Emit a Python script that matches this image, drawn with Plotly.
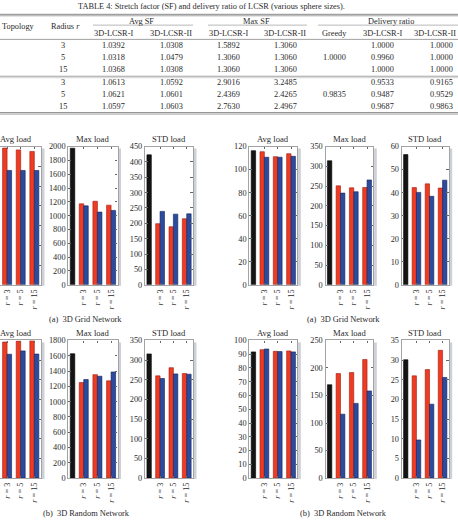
import plotly.graph_objects as go

W, H = 458, 528
FONT = "Liberation Serif"
TXT = "#2a2a2a"

# ---------------- table data ----------------
table_title = "TABLE 4: Stretch factor (SF) and delivery ratio of LCSR (various sphere sizes)."
radius = ["3", "5", "15"]
grid_avg_sf_I = [1.0392, 1.0318, 1.0368]
grid_avg_sf_II = [1.0308, 1.0479, 1.0308]
grid_max_sf_I = [1.5892, 1.3060, 1.3060]
grid_max_sf_II = [1.3060, 1.3060, 1.3060]
grid_greedy_dr = 1.0000
grid_dr_I = [1.0000, 0.9960, 1.0000]
grid_dr_II = [1.0000, 1.0000, 1.0000]
rand_avg_sf_I = [1.0613, 1.0621, 1.0597]
rand_avg_sf_II = [1.0592, 1.0601, 1.0603]
rand_max_sf_I = [2.9016, 2.4369, 2.7630]
rand_max_sf_II = [3.2485, 2.4265, 2.4967]
rand_greedy_dr = 0.9835
rand_dr_I = [0.9533, 0.9487, 0.9687]
rand_dr_II = [0.9165, 0.9529, 0.9863]

# ---------------- bar chart data ----------------
cats = ["Greedy", "r = 3", "r = 5", "r = 15"]
tick_text = ["<i>r</i> = 3", "<i>r</i> = 5", "<i>r</i> = 15"]
panel_titles = ["Avg load", "Max load", "STD load"]

# left column, (a) 3D Grid Network
gridL_avg_greedy = 690; gridL_avg_I = [692, 683, 675]; gridL_avg_II = [579, 579, 579]
gridL_max_greedy = 1976; gridL_max_I = [1171, 1209, 1152]; gridL_max_II = [1142, 1052, 1076]
gridL_std_greedy = 423; gridL_std_I = [199, 189, 215]; gridL_std_II = [239, 230, 231]
# right column, (a) 3D Grid Network
gridR_avg_greedy = 116.4; gridR_avg_I = [115.5, 111.2, 113.8]; gridR_avg_II = [110.7, 110.7, 111.5]
gridR_max_greedy = 314; gridR_max_I = [250.5, 245.5, 246.3]; gridR_max_II = [232.2, 235.5, 265.4]
gridR_std_greedy = 56.5; gridR_std_I = [42.2, 43.8, 42.0]; gridR_std_II = [40.1, 38.4, 45.4]
# left column, (b) 3D Random Network
randL_avg_greedy = 640; randL_avg_I = [692, 697, 699]; randL_avg_II = [630, 647, 631]
randL_max_greedy = 1627; randL_max_I = [1250, 1353, 1272]; randL_max_II = [1289, 1332, 1388]
randL_std_greedy = 315.8; randL_std_I = [260, 280.8, 265.8]; randL_std_II = [253.3, 265, 264.2]
# right column, (b) 3D Random Network
randR_avg_greedy = 91.7; randR_avg_I = [93.3, 92.1, 92.4]; randR_avg_II = [93.8, 91.9, 91.7]
randR_max_greedy = 169.6; randR_max_I = [189.9, 191.7, 215.5]; randR_max_II = [116.1, 135.7, 158.3]
randR_std_greedy = 30.1; randR_std_I = [26.0, 27.6, 32.5]; randR_std_II = [9.7, 18.8, 25.6]

def px(x):
    return x / W

def py(y):
    return 1 - y / H

panels = [
    # (greedy, I, II, ymax, dtick, xdom_px, ydom_px, cut)
    (gridL_avg_greedy, gridL_avg_I, gridL_avg_II, 700, 100, (0, 41), (145, 285.7), True),
    (gridL_max_greedy, gridL_max_I, gridL_max_II, 2000, 200, (68.3, 117.5), (145, 285.7), False),
    (gridL_std_greedy, gridL_std_I, gridL_std_II, 450, 50, (145, 193), (145, 285.7), False),
    (gridR_avg_greedy, gridR_avg_I, gridR_avg_II, 120, 20, (249.3, 297.3), (145, 285.7), False),
    (gridR_max_greedy, gridR_max_I, gridR_max_II, 350, 50, (325.5, 373.3), (145, 285.7), False),
    (gridR_std_greedy, gridR_std_I, gridR_std_II, 60, 10, (401.7, 448.7), (145, 285.7), False),
    (randL_avg_greedy, randL_avg_I, randL_avg_II, 700, 100, (0, 41), (342.3, 482.3), True),
    (randL_max_greedy, randL_max_I, randL_max_II, 1800, 200, (68.3, 117.5), (342.3, 482.3), False),
    (randL_std_greedy, randL_std_I, randL_std_II, 350, 50, (145, 193), (342.3, 482.3), False),
    (randR_avg_greedy, randR_avg_I, randR_avg_II, 100, 10, (249.3, 297.3), (342.3, 482.3), False),
    (randR_max_greedy, randR_max_I, randR_max_II, 250, 50, (325.5, 373.3), (342.3, 482.3), False),
    (randR_std_greedy, randR_std_I, randR_std_II, 35, 5, (401.7, 448.7), (342.3, 482.3), False),
]

BLACK = "#141414"
RED = "#ef3b22"
BLUE = "#2b4c9e"
FRAME = "#a3a3a3"
BW = 0.33

fig = go.Figure()
layout = dict(width=W, height=H, margin=dict(l=0, r=0, t=0, b=0),
              paper_bgcolor="white", plot_bgcolor="white", showlegend=False,
              barmode="overlay", font=dict(family=FONT, size=8.3, color=TXT))
annotations = []
shapes = []

for i, (g, s1, s2, ymax, dt, xd, yd, cut) in enumerate(panels):
    n = i + 1
    xa = "x" if n == 1 else f"x{n}"
    ya = "y" if n == 1 else f"y{n}"
    fig.add_trace(go.Bar(x=[cats[0]], y=[g], xaxis=xa, yaxis=ya, width=BW, offset=0.015,
                         marker=dict(color=BLACK, line=dict(color="#000", width=0.6))))
    fig.add_trace(go.Bar(x=cats[1:], y=s1, xaxis=xa, yaxis=ya, width=BW, offset=-BW,
                         marker=dict(color=RED, line=dict(color="#9c1c10", width=0.6))))
    fig.add_trace(go.Bar(x=cats[1:], y=s2, xaxis=xa, yaxis=ya, width=BW, offset=0,
                         marker=dict(color=BLUE, line=dict(color="#0f1f5a", width=0.6))))
    xr = [0.48, 3.49] if cut else [-0.13, 3.47]
    layout["xaxis" if n == 1 else f"xaxis{n}"] = dict(
        domain=[px(xd[0]), px(xd[1])], anchor=ya, type="category",
        categoryorder="array", categoryarray=cats, range=xr,
        tickvals=cats[1:], ticktext=tick_text, tickangle=-90,
        showline=True, linecolor=FRAME, linewidth=1.2, mirror="ticks",
        ticks="inside", ticklen=2, tickcolor="#666", showgrid=False, zeroline=False,
        tickfont=dict(family=FONT, size=8.3, color=TXT), fixedrange=True)
    yax = dict(domain=[py(yd[1]), py(yd[0])], anchor=xa, range=[0, ymax], dtick=dt,
               showline=True, linecolor=FRAME, linewidth=1.2,
               ticks="inside", ticklen=2.5, tickcolor="#666", showgrid=False, zeroline=False,
               tickfont=dict(family=FONT, size=8.3, color=TXT), fixedrange=True)
    if cut:
        yax.update(side="right", mirror=False, showticklabels=False)
    else:
        yax.update(mirror="ticks")
    layout["yaxis" if n == 1 else f"yaxis{n}"] = yax
    # panel title
    cx = (-8.4 + xd[1]) / 2 if cut else (xd[0] + xd[1]) / 2
    annotations.append(dict(text=panel_titles[i % 3], x=px(cx), y=py(yd[0] - 8), xref="paper",
                            yref="paper", showarrow=False, xanchor="center", yanchor="middle",
                            font=dict(family=FONT, size=8.6, color=TXT)))
    # scanned drop shadow on the right of each frame
    shapes.append(dict(type="rect", xref="paper", yref="paper", x0=px(xd[1] + 0.8), x1=px(xd[1] + 3.5),
                       y0=py(yd[1] + 1), y1=py(yd[0] + 2), line=dict(width=0), fillcolor="#cdd0d6",
                       layer="below"))

# captions
for cx, cy, t in [(85.5, 321, "(a)  3D Grid Network"), (343, 321, "(a)  3D Grid Network"),
                  (86, 518, "(b)  3D Random Network"), (343.5, 518, "(b)  3D Random Network")]:
    annotations.append(dict(text=t, x=px(cx), y=py(cy), xref="paper", yref="paper", showarrow=False,
                            xanchor="center", yanchor="middle", font=dict(family=FONT, size=8.4, color=TXT)))

# ---------------- table ----------------
def txt(s, x, y, anchor="center", size=8.3):
    annotations.append(dict(text=s, x=px(x), y=py(y), xref="paper", yref="paper", showarrow=False,
                            xanchor=anchor, yanchor="middle", font=dict(family=FONT, size=size, color=TXT)))

txt(table_title, 211, 2.5)
txt("Topology", 18, 23.3)
txt("Radius <i>r</i>", 65, 23.3)
txt("Avg SF", 141, 17.3)
txt("Max SF", 256.5, 17.3)
txt("Delivery ratio", 391, 17.3)
col_x = [113, 171, 228, 285, 334, 382, 441]
sub = ["3D-LCSR-I", "3D-LCSR-II", "3D-LCSR-I", "3D-LCSR-II", "Greedy", "3D-LCSR-I"]
for x, s in zip(col_x[:6], sub):
    txt(s, x, 30)
txt("3D-LCSR-II", 457.5, 30, anchor="right")

rows_grid = [42.7, 54.3, 66.7]
rows_rand = [80, 91.7, 104.3]
for rows, cols, greedy in [
    (rows_grid, [grid_avg_sf_I, grid_avg_sf_II, grid_max_sf_I, grid_max_sf_II, grid_dr_I, grid_dr_II], grid_greedy_dr),
    (rows_rand, [rand_avg_sf_I, rand_avg_sf_II, rand_max_sf_I, rand_max_sf_II, rand_dr_I, rand_dr_II], rand_greedy_dr),
]:
    for k, y in enumerate(rows):
        txt(radius[k], 63, y)
        for x, col in zip(col_x[:4] + col_x[5:], cols):
            txt(f"{col[k]:.4f}", x, y)
    txt(f"{greedy:.4f}", col_x[4], rows[1])

def hline(y, x0, x1, w, c="#8a8a8a"):
    shapes.append(dict(type="line", xref="paper", yref="paper", x0=px(x0), x1=px(x1),
                       y0=py(y), y1=py(y), line=dict(color=c, width=w)))

hline(10.5, 0, W, 1.0)
hline(12, 0, W, 0.8)
hline(21.5, 93, 193, 0.6)
hline(21.5, 208, 307, 0.6)
hline(21.5, 318, W, 0.6)
hline(36, 0, W, 0.8)
hline(73.5, 0, W, 0.8)
hline(75, 0, W, 0.6, "#b0b0b0")
hline(110.5, 0, W, 1.0)
hline(112, 0, W, 0.8)

layout["annotations"] = annotations
layout["shapes"] = shapes
fig.update_layout(**layout)
fig.write_html("out.html")
